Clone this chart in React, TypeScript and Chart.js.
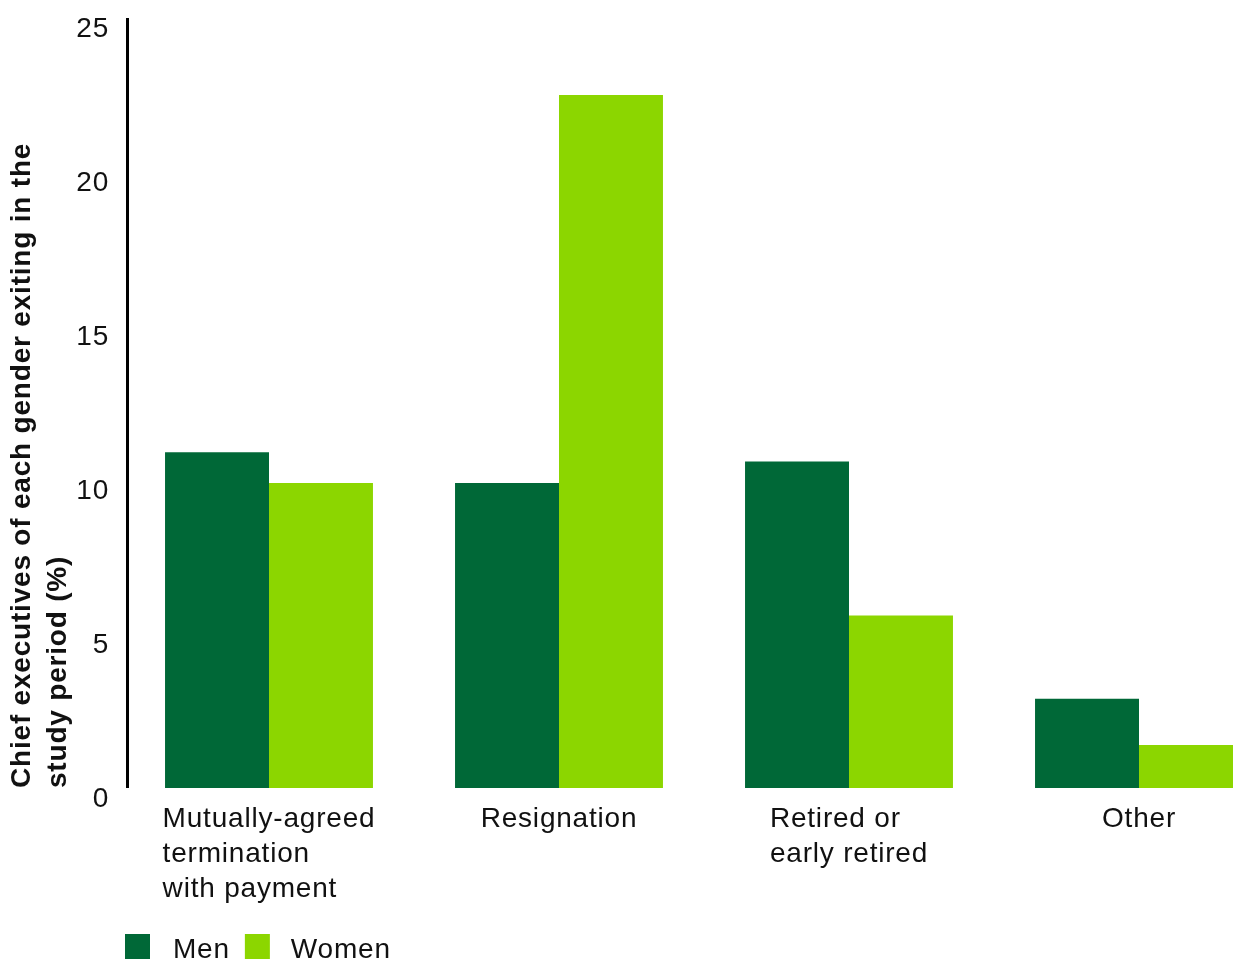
import React, { useEffect, useRef } from "react";
import { Chart, registerables } from "chart.js";

Chart.register(...registerables);

const categories: string[][] = [
  ["Mutually-agreed", "termination", "with payment"],
  ["Resignation"],
  ["Retired or", "early retired"],
  ["Other"],
];
const seriesNames = ["Men", "Women"];
const menValues = [10.9, 9.9, 10.6, 2.9];
const womenValues = [9.9, 22.5, 5.6, 1.4];
const yTitle = ["Chief executives of each gender exiting in the", "study period (%)"];
const yMin = 0;
const yMax = 25;
const yStep = 5;

const MEN_COLOR = "#006837";
const WOMEN_COLOR = "#8cd600";
const FONT = "'Liberation Sans', Arial, sans-serif";
const TEXT = "#111111";
const SPACING = "0.8px";

const customDraw = {
  id: "customDraw",
  beforeDraw(chart: any) {
    (chart.ctx as any).letterSpacing = SPACING;
  },
  afterDraw(chart: any) {
    const { ctx, chartArea, scales } = chart;
    const x = scales.x;
    ctx.save();
    (ctx as any).letterSpacing = SPACING;
    // y axis line
    ctx.strokeStyle = "#000";
    ctx.lineWidth = 3;
    ctx.beginPath();
    ctx.moveTo(chartArea.left + 3.5, chartArea.top);
    ctx.lineTo(chartArea.left + 3.5, chartArea.bottom);
    ctx.stroke();

    // category labels, left-aligned block centred on tick
    ctx.font = `28px ${FONT}`;
    ctx.fillStyle = TEXT;
    ctx.textBaseline = "alphabetic";
    ctx.textAlign = "left";
    categories.forEach((lines, i) => {
      const cx = x.getPixelForValue(i);
      const w = Math.max(...lines.map((l) => ctx.measureText(l).width));
      const left = cx - w / 2;
      lines.forEach((l, j) => {
        ctx.fillText(l, left, chartArea.bottom + 39 + j * 35);
      });
    });

    // legend
    const colors = [MEN_COLOR, WOMEN_COLOR];
    let lx = chartArea.left + 1;
    const top = chartArea.bottom + 146;
    seriesNames.forEach((name, i) => {
      ctx.fillStyle = colors[i];
      ctx.fillRect(lx, top, 25, 25);
      ctx.fillStyle = TEXT;
      ctx.fillText(name, lx + (i === 0 ? 48 : 46), top + 24);
      lx += 48 + ctx.measureText(name).width + 15;
    });
    ctx.restore();
  },
};

export default function App() {
  const ref = useRef<HTMLCanvasElement>(null);
  useEffect(() => {
    if (!ref.current) return;
    const chart = new Chart(ref.current, {
      type: "bar",
      data: {
        labels: categories.map((c) => c.join(" ")),
        datasets: [
          {
            label: seriesNames[0],
            data: menValues,
            backgroundColor: MEN_COLOR,
            categoryPercentage: 0.717,
            barPercentage: 1,
          },
          {
            label: seriesNames[1],
            data: womenValues,
            backgroundColor: WOMEN_COLOR,
            categoryPercentage: 0.717,
            barPercentage: 1,
          },
        ],
      },
      options: {
        responsive: false,
        animation: false,
        layout: { padding: { top: 18, left: 0, right: 0, bottom: 0 } },
        plugins: { legend: { display: false }, tooltip: { enabled: false } },
        scales: {
          x: {
            grid: { display: false, drawTicks: false },
            border: { display: false },
            ticks: { display: false },
            afterFit: (s: any) => {
              s.height = 171;
              s.paddingLeft = 0;
              s.paddingRight = 0;
            },
          },
          y: {
            min: yMin,
            max: yMax,
            grid: { display: false, drawTicks: false },
            border: { display: false },
            ticks: {
              stepSize: yStep,
              padding: 15,
              labelOffset: 11,
              color: TEXT,
              font: { family: FONT, size: 28 },
            },
            title: {
              display: true,
              text: yTitle,
              align: "start",
              color: TEXT,
              font: { family: FONT, size: 28, weight: "bold", lineHeight: 1.29 },
              padding: { top: 4, bottom: 0 },
            },
            afterFit: (s: any) => {
              s.width = 124;
              s.paddingTop = 0;
              s.paddingBottom = 0;
            },
          },
        },
      },
      plugins: [customDraw],
    });
    return () => chart.destroy();
  }, []);
  return (
    <div
      style={{
        position: "fixed",
        left: 0,
        top: 0,
        width: 1233,
        height: 959,
        overflow: "hidden",
        background: "#fff",
      }}
    >
      <canvas ref={ref} width={1284} height={959} style={{ display: "block" }} />
    </div>
  );
}
